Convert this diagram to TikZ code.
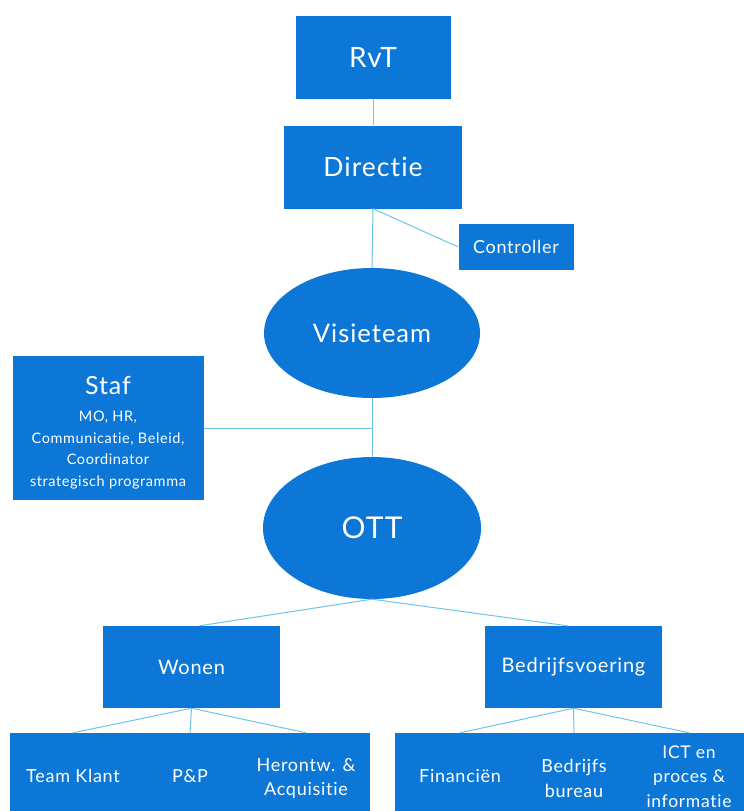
\documentclass[tikz,border=0pt]{standalone}
\usepackage{fontspec}
\setmainfont{Lato}[LetterSpace=4, Ligatures={NoCommon}]
\usepackage{xcolor}
\usetikzlibrary{shapes.geometric}
\definecolor{orgblue}{RGB}{12,119,214}
\definecolor{linkblue}{RGB}{110,196,232}
\tikzset{
  unit/.style={rectangle, fill=orgblue, text=white, inner sep=0pt, align=center},
  team/.style={ellipse, fill=orgblue, text=white, inner sep=0pt},
  label/.style={text=white, inner sep=0pt, align=center, font=\fontsize{18}{24.5}\selectfont},
  link/.style={linkblue, line width=1pt}
}

\begin{document}
\begin{tikzpicture}[x=1pt,y=-1pt]
	 \useasboundingbox (0,0) rectangle (744,811);
	 % top of the tree
	 \node[unit, minimum width=155pt, minimum height=83pt, font=\fontsize{28}{32}\selectfont] (rvt) at (373,57) {RvT};
	 \node[unit, minimum width=178pt, minimum height=83pt, font=\fontsize{26.5}{30}\selectfont] (directie) at (373,167) {Directie};
	 \node[unit, minimum width=115pt, minimum height=46pt, font=\fontsize{18}{22}\selectfont] (controller) at (516,247) {Controller};
	 \node[team, minimum width=216pt, minimum height=130pt, font=\fontsize{25.5}{30}\selectfont] (visie) at (372,333) {Visieteam};
	 \node[team, minimum width=218pt, minimum height=142pt, font=\fontsize{30}{34}\selectfont] (ott) at (372,528) {OTT};
	 \node[unit, minimum width=191pt, minimum height=144pt] (staf) at (108,428) {};
	 \node[label, font=\fontsize{25}{30}\selectfont] (staftitle) at (108,386) {Staf};
	 \node[label, font=\fontsize{14.5}{21.8}\selectfont] (staftext) at (108,450)
	   {MO, HR,\\ Communicatie, Beleid,\\ Coordinator\\ strategisch programma};
	 % departments
	 \node[unit, minimum width=177pt, minimum height=82pt, font=\fontsize{20}{24}\selectfont] (wonen) at (191.5,667) {Wonen};
	 \node[unit, minimum width=177pt, minimum height=82pt, font=\fontsize{20}{24}\selectfont] (bedrijf) at (573.5,667) {Bedrijfsvoering};
	 \node[unit, minimum width=360pt, minimum height=78pt] (wbox) at (190,772) {};
	 \node[unit, minimum width=349pt, minimum height=78pt] (bbox) at (569.5,772) {};
	 \node[label] (klant) at (73,776) {Team Klant};
	 \node[label] (pp) at (190,776) {P\&P};
	 \node[label] (herontw) at (306,778.5) {Herontw. \&\\ Acquisitie};
	 \node[label] (fin) at (460,776) {Financiën};
	 \node[label] (bureau) at (574,778.5) {Bedrijfs\\ bureau};
	 \node[label, font=\fontsize{17.5}{24.5}\selectfont] (ict) at (689,776.5) {ICT en\\ proces \&\\ informatie};
	 % connectors
	 \draw[link] (rvt.south) -- (directie.north);
	 \draw[link] (directie.south) -- (visie.north);
	 \draw[link] (directie.south) -- (controller.west);
	 \draw[link] (visie.south) -- (ott.north);
	 \draw[link] (staf.east) -- (staf.east -| visie.south);
	 \draw[link] (ott.south) -- ([xshift=8pt]wonen.north);
	 \draw[link] (ott.south) -- ([xshift=-6pt]bedrijf.north);
	 \draw[link] (wonen.south) -- (klant |- wbox.north);
	 \draw[link] (wonen.south) -- (pp |- wbox.north);
	 \draw[link] (wonen.south) -- (herontw |- wbox.north);
	 \draw[link] (bedrijf.south) -- (fin |- bbox.north);
	 \draw[link] (bedrijf.south) -- (bureau |- bbox.north);
	 \draw[link] (bedrijf.south) -- (ict |- bbox.north);
\end{tikzpicture}
\end{document}
